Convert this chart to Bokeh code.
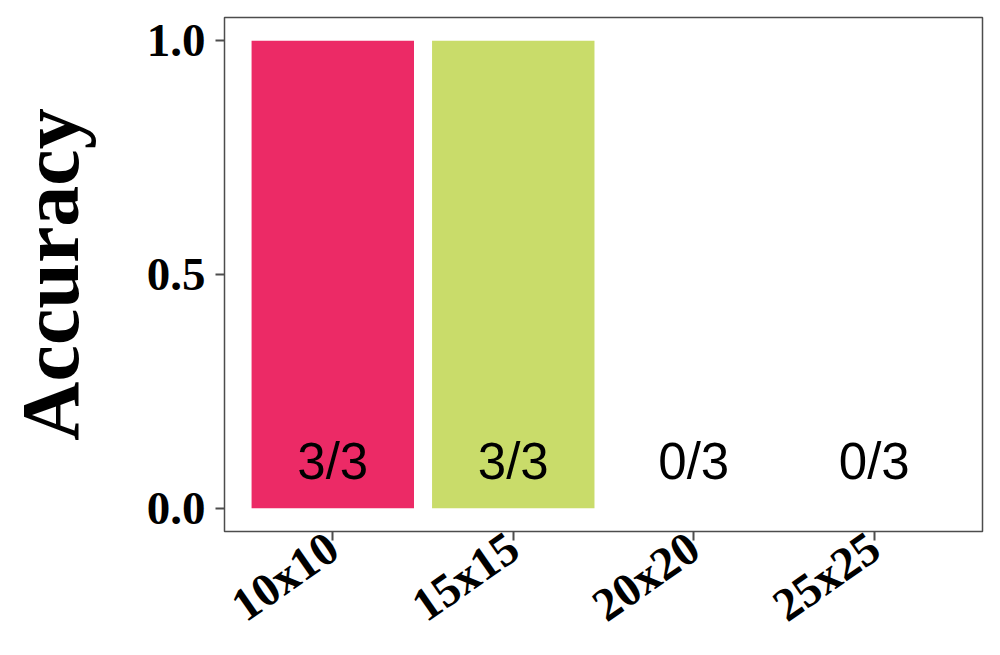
import math
from bokeh.plotting import figure
from bokeh.models import ColumnDataSource, Range1d, FixedTicker
from bokeh.core.properties import value
from bokeh.embed import file_html
from bokeh.resources import INLINE

categories = ["10x10", "15x15", "20x20", "25x25"]
accuracy = [1.0, 1.0, 0.0, 0.0]
count_labels = ["3/3", "3/3", "0/3", "0/3"]
bar_colors = ["#EC2A66", "#C9DC6A", "#3FB8AF", "#7A5CA8"]
label_y = [0.1, 0.1, 0.1, 0.1]

xpos = list(range(1, len(categories) + 1))
src = ColumnDataSource(dict(x=xpos, top=accuracy, color=bar_colors,
                            lab=count_labels, ly=label_y))

p = figure(width=1000, height=655, output_backend="svg", toolbar_location=None,
           x_range=Range1d(0.4, 4.6), y_range=Range1d(-0.05, 1.05),
           min_border_left=224, min_border_right=18, min_border_top=17,
           min_border_bottom=118)

p.vbar(x="x", top="top", bottom=0, width=0.9, color="color", line_color=None, source=src)
p.text(x="x", y="ly", text="lab", source=src, text_align="center",
       text_baseline="middle", text_font=value("Liberation Sans"),
       text_font_size="51px", text_color="black")

p.grid.visible = False
p.background_fill_color = "white"
p.border_fill_color = "white"
p.outline_line_color = "#4d4d4d"
p.outline_line_width = 1.5

for ax in (p.xaxis[0], p.yaxis[0]):
    ax.axis_line_color = None
    ax.major_tick_line_color = "#4d4d4d"
    ax.major_tick_line_width = 2
    ax.major_tick_in = 0
    ax.major_tick_out = 9
    ax.minor_tick_line_color = None
    ax.major_label_text_font = "Liberation Serif"
    ax.major_label_text_font_style = "bold"
    ax.major_label_text_font_size = "47px"
    ax.major_label_text_color = "black"

p.xaxis.ticker = FixedTicker(ticks=xpos)
p.xaxis.major_label_overrides = {i: c for i, c in zip(xpos, categories)}
p.xaxis.major_label_orientation = math.radians(35)
p.xaxis.major_label_standoff = 2

p.yaxis.ticker = FixedTicker(ticks=[0.0, 0.5, 1.0])
p.yaxis.major_label_overrides = {0.0: "0.0", 0.5: "0.5", 1.0: "1.0"}
p.yaxis.major_label_standoff = 10
p.yaxis.axis_label = "Accuracy"
p.yaxis.axis_label_text_font = "Liberation Serif"
p.yaxis.axis_label_text_font_style = "bold"
p.yaxis.axis_label_text_font_size = "82px"
p.yaxis.axis_label_text_color = "black"
p.yaxis.axis_label_standoff = 48

open("out.html", "w").write(file_html(p, INLINE))
